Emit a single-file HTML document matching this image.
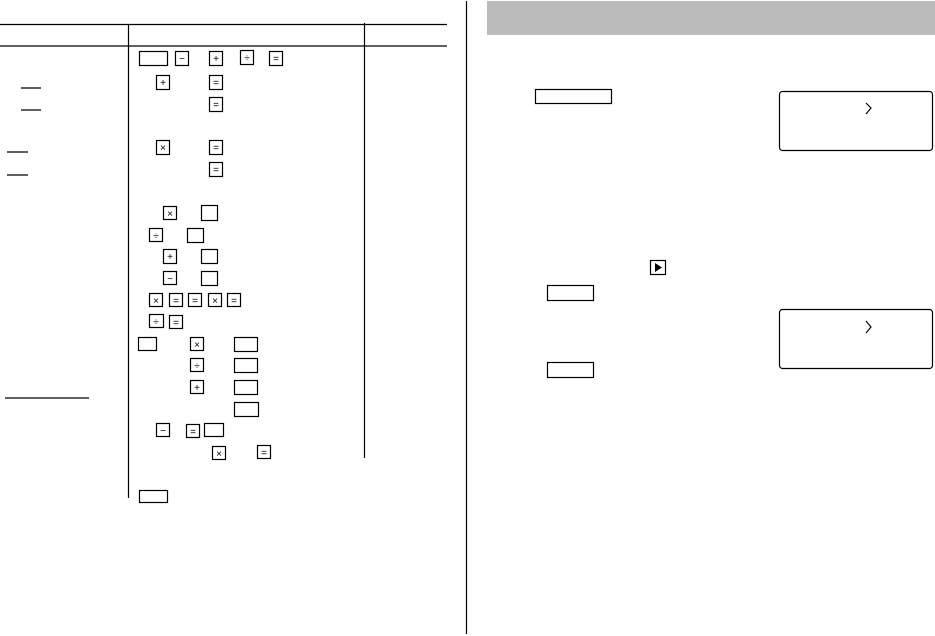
<!DOCTYPE html>
<html><head><meta charset="utf-8"><style>
html,body{margin:0;padding:0;background:#fff;width:935px;height:636px;overflow:hidden}
svg text{font-family:"Liberation Sans","DejaVu Sans",sans-serif;font-size:10px;text-anchor:middle;fill:#000}
</style></head><body>
<svg width="935" height="636" viewBox="0 0 935 636" xmlns="http://www.w3.org/2000/svg">
<g stroke="#000" stroke-width="1.2" fill="none">
<line x1="0" y1="24.5" x2="447" y2="24.5"/>
<line x1="0" y1="46" x2="447" y2="46"/>
<line x1="128.5" y1="24" x2="128.5" y2="498"/>
<line x1="364.5" y1="23" x2="364.5" y2="458"/>
<line x1="466.5" y1="1" x2="466.5" y2="634"/>
<line x1="21" y1="88" x2="41" y2="88"/>
<line x1="21" y1="110" x2="41" y2="110"/>
<line x1="7" y1="152" x2="28" y2="152"/>
<line x1="7" y1="175" x2="28" y2="175"/>
<line x1="5" y1="398" x2="89" y2="398"/>
<!-- wide / blank boxes -->
<rect x="139.5" y="51.5" width="28" height="14"/>
<rect x="201.5" y="205.5" width="16" height="15"/>
<rect x="187.5" y="228.5" width="16" height="14"/>
<rect x="201.5" y="249.5" width="16" height="14"/>
<rect x="201.5" y="271.5" width="16" height="14"/>
<rect x="138.5" y="337.5" width="18" height="13"/>
<rect x="234.5" y="337.5" width="23" height="14"/>
<rect x="234.5" y="358.5" width="23" height="14"/>
<rect x="234.5" y="380.5" width="23" height="14"/>
<rect x="234.5" y="402.5" width="24" height="14"/>
<rect x="204.5" y="423.5" width="19" height="13"/>
<rect x="139.5" y="490.5" width="28" height="12"/>
<rect x="535.5" y="89.5" width="76" height="14"/>
<rect x="547.5" y="285.5" width="46" height="15"/>
<rect x="547.5" y="362.5" width="46" height="15"/>
<rect x="650.5" y="260.5" width="15" height="14"/>
<rect x="779.5" y="91.5" width="153" height="59" rx="3"/>
<rect x="779.5" y="309.5" width="153" height="59" rx="3"/>
<polyline points="866,103 871,108 866,114"/>
<polyline points="866,321 871,327 866,333"/>
</g>
<rect x="487" y="1" width="448" height="34" fill="#bbb"/>
<polygon points="655,263 662,267.5 655,272" fill="#000"/>
<g stroke="#000" stroke-width="1.2" fill="#fff">
<rect x="175.5" y="51.5" width="13" height="14"/><rect x="209.5" y="51.5" width="13" height="14"/>
<rect x="240.5" y="50.5" width="13" height="14"/><rect x="269.5" y="51.5" width="13" height="14"/>
<rect x="156.5" y="75.5" width="13" height="14"/><rect x="209.5" y="75.5" width="13" height="14"/>
<rect x="209.5" y="97.5" width="13" height="14"/>
<rect x="156.5" y="140.5" width="13" height="14"/><rect x="209.5" y="140.5" width="13" height="14"/>
<rect x="209.5" y="162.5" width="13" height="14"/>
<rect x="163.5" y="206.5" width="13" height="13"/>
<rect x="149.5" y="228.5" width="13" height="13"/>
<rect x="163.5" y="249.5" width="13" height="14"/>
<rect x="163.5" y="271.5" width="13" height="13"/>
<rect x="149.5" y="293.5" width="13" height="13"/><rect x="169.5" y="293.5" width="13" height="13"/>
<rect x="188.5" y="293.5" width="13" height="13"/><rect x="208.5" y="293.5" width="13" height="13"/>
<rect x="227.5" y="293.5" width="13" height="13"/>
<rect x="149.5" y="314.5" width="14" height="13"/><rect x="169.5" y="315.5" width="13" height="13"/>
<rect x="190.5" y="337.5" width="13" height="13"/>
<rect x="190.5" y="358.5" width="13" height="13"/>
<rect x="190.5" y="380.5" width="13" height="13"/>
<rect x="156.5" y="423.5" width="13" height="13"/><rect x="186.5" y="424.5" width="13" height="13"/>
<rect x="212.5" y="446.5" width="13" height="13"/><rect x="257.5" y="445.5" width="13" height="13"/>
</g>
<g>
<text x="182" y="62">−</text><text x="216" y="62">+</text><text x="247" y="61">÷</text><text x="276" y="62">=</text>
<text x="163" y="86">+</text><text x="216" y="86">=</text>
<text x="216" y="108">=</text>
<text x="163" y="151">×</text><text x="216" y="151">=</text>
<text x="216" y="173">=</text>
<text x="170" y="217">×</text>
<text x="156" y="239">÷</text>
<text x="170" y="260">+</text>
<text x="170" y="282">−</text>
<text x="156" y="304">×</text><text x="176" y="304">=</text><text x="195" y="304">=</text><text x="215" y="304">×</text><text x="234" y="304">=</text>
<text x="156" y="325">÷</text><text x="176" y="326">=</text>
<text x="197" y="348">×</text>
<text x="197" y="369">÷</text>
<text x="197" y="391">+</text>
<text x="163" y="434">−</text><text x="193" y="435">=</text>
<text x="219" y="457">×</text><text x="264" y="456">=</text>
</g>
</svg>
</body></html>
